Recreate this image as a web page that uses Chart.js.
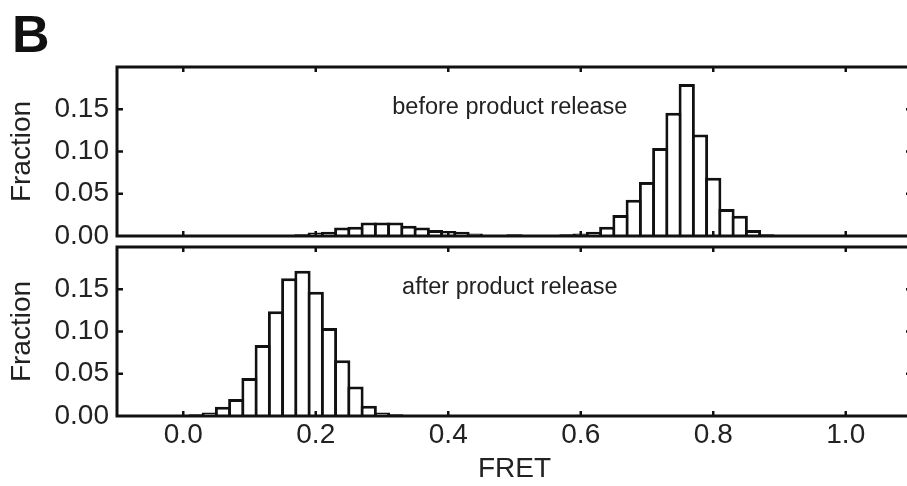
<!DOCTYPE html>
<html>
<head>
<meta charset="utf-8">
<script src="https://cdn.jsdelivr.net/npm/chart.js@4/dist/chart.umd.min.js"></script>
<style>
  html, body { margin: 0; padding: 0; background: #fff; overflow: hidden; width: 907px; height: 486px; }
  #wrap { position: relative; width: 907px; height: 486px; overflow: hidden; }
  .pane { position: absolute; left: 0; }
  #letter { position: absolute; left: 12px; top: 4px; font: bold 52px "Liberation Sans", Arial, sans-serif; color: #111; }
</style>
</head>
<body>
<div id="wrap">
  <div id="letter">B</div>
  <div class="pane" style="top:240px;width:912px;height:246px"><canvas id="bottom" width="912" height="246"></canvas></div>
  <div class="pane" style="top:0;width:912px;height:252px"><canvas id="top" width="912" height="252"></canvas></div>
</div>
<script>
// ---- data ----
const topFret = [0.16, 0.18, 0.20, 0.22, 0.24, 0.26, 0.28, 0.30, 0.32, 0.34, 0.36, 0.38, 0.40, 0.42, 0.44,
                 0.46, 0.48, 0.50, 0.52, 0.54, 0.56, 0.58, 0.60, 0.62, 0.64, 0.66, 0.68, 0.70, 0.72, 0.74,
                 0.76, 0.78, 0.80, 0.82, 0.84, 0.86, 0.88];
const topFraction = [0.001, 0.002, 0.004, 0.005, 0.010, 0.011, 0.016, 0.016, 0.016, 0.012, 0.010, 0.007, 0.006, 0.005, 0.003,
                     0.001, 0.001, 0.002, 0.001, 0.001, 0.001, 0.002, 0.003, 0.005, 0.011, 0.025, 0.043, 0.064, 0.104, 0.146,
                     0.180, 0.120, 0.069, 0.032, 0.024, 0.007, 0.002];
const bottomFret = [-0.04, -0.02, 0.00, 0.02, 0.04, 0.06, 0.08, 0.10, 0.12, 0.14, 0.16, 0.18, 0.20, 0.22, 0.24,
                    0.26, 0.28, 0.30, 0.32, 0.34];
const bottomFraction = [0.0005, 0.001, 0.001, 0.002, 0.004, 0.011, 0.020, 0.045, 0.084, 0.124, 0.163, 0.172, 0.147, 0.104, 0.066,
                        0.035, 0.012, 0.004, 0.002, 0.001];
const fretTicks = [0.0, 0.2, 0.4, 0.6, 0.8, 1.0];
const fractionTicks = [0.00, 0.05, 0.10, 0.15];
const panelLabels = ['before product release', 'after product release'];
const labelAt = { x: 0.493, y: 0.152 };   // data-space position of the panel captions

const FONT = '"Liberation Sans", Arial, sans-serif';
const INK = '#111';

const framePlugin = {
  id: 'frame',
  afterDatasetsDraw(chart, args, opts) {
    const { ctx, chartArea: { left, top, right, bottom }, scales: { x, y } } = chart;
    ctx.save();
    ctx.strokeStyle = INK;
    ctx.lineWidth = 3;
    ctx.strokeRect(left, top, right - left, bottom - top);
    ctx.lineWidth = 2.5;
    ctx.beginPath();
    for (const v of fretTicks) {
      const px = x.getPixelForValue(v);
      ctx.moveTo(px, top); ctx.lineTo(px, top + 5);
      ctx.moveTo(px, bottom); ctx.lineTo(px, bottom - 5);
    }
    for (const v of fractionTicks.slice(1)) {
      const py = y.getPixelForValue(v);
      ctx.moveTo(left, py); ctx.lineTo(left + 6, py);
      ctx.moveTo(right, py); ctx.lineTo(right - 6, py);
    }
    ctx.stroke();
    if (opts.label) {
      ctx.fillStyle = '#222';
      ctx.font = '23.5px ' + FONT;
      ctx.textAlign = 'center';
      ctx.textBaseline = 'middle';
      ctx.fillText(opts.label, x.getPixelForValue(labelAt.x), y.getPixelForValue(labelAt.y));
    }
    ctx.restore();
  }
};

function makeChart(id, fret, fraction, label, isBottom) {
  const data = fret.map((f, i) => ({ x: f, y: fraction[i] }));
  return new Chart(document.getElementById(id), {
    type: 'bar',
    data: {
      datasets: [{
        data,
        backgroundColor: '#ffffff',
        borderColor: INK,
        borderWidth: 3,
        borderSkipped: 'start',
        barPercentage: 1.226,
        categoryPercentage: 1.0
      }]
    },
    options: {
      responsive: false,
      animation: false,
      layout: { padding: isBottom ? { top: 7, right: 0, bottom: 0, left: 0 } : { top: 67, right: 0, bottom: 16, left: 0 } },
      plugins: {
        legend: { display: false },
        tooltip: { enabled: false },
        frame: { label }
      },
      scales: {
        x: {
          type: 'linear',
          min: -0.1,
          max: 1.1,
          offset: false,
          display: isBottom,
          grid: { display: false, drawTicks: false, offset: false },
          border: { display: false },
          afterBuildTicks: s => { s.ticks = fretTicks.map(v => ({ value: v })); },
          afterFit: s => {
            s.height = isBottom ? 70 : 0;
            s.paddingLeft = 0; s.paddingRight = 0;
          },
          ticks: {
            font: { family: FONT, size: 28 },
            color: '#222',
            padding: 2,
            maxRotation: 0,
            callback: v => Number(v).toFixed(1)
          },
          title: {
            display: true,
            text: 'FRET',
            font: { family: FONT, size: 28 },
            color: '#222',
            padding: { top: 0, bottom: 0 }
          }
        },
        y: {
          min: 0,
          max: 0.2,
          grid: { display: false, drawTicks: false },
          border: { display: false },
          afterBuildTicks: s => { s.ticks = fractionTicks.map(v => ({ value: v })); },
          afterFit: s => {
            s.width = 117;
            s.paddingTop = 0; s.paddingBottom = 0;
          },
          ticks: {
            font: { family: FONT, size: 28 },
            color: '#222',
            padding: 8,
            callback: v => Number(v).toFixed(2)
          },
          title: {
            display: true,
            text: 'Fraction',
            font: { family: FONT, size: 28 },
            color: '#222',
            padding: { top: 5, bottom: 0 }
          }
        }
      }
    },
    plugins: [framePlugin]
  });
}

makeChart('top', topFret, topFraction, panelLabels[0], false);
makeChart('bottom', bottomFret, bottomFraction, panelLabels[1], true);
</script>
</body>
</html>
